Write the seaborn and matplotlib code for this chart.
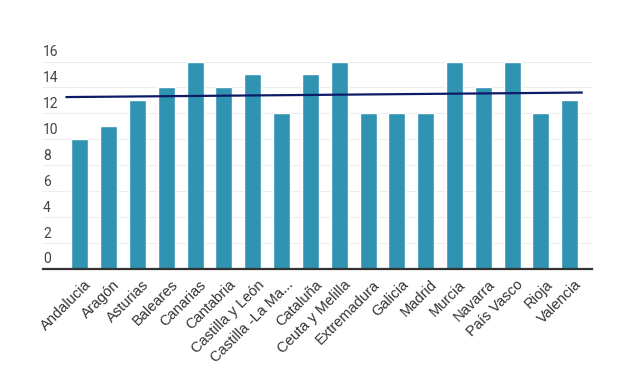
import matplotlib
matplotlib.use("Agg")
import matplotlib.pyplot as plt
import matplotlib.transforms as mtransforms
import seaborn as sns
import pandas as pd

# Data
regions = ['Andalucia', 'Aragón', 'Asturias', 'Baleares', 'Canarias', 'Cantabria',
           'Castilla y León', 'Castilla -La Ma...', 'Cataluña', 'Ceuta y Melilla',
           'Extremadura', 'Galicia', 'Madrid', 'Murcia', 'Navarra', 'País Vasco',
           'Rioja', 'Valencia']
values = [10, 11, 13, 14, 16, 14, 15, 12, 15, 16, 12, 12, 12, 16, 14, 16, 12, 13]
trend_x = [-0.5, 17.45]
trend_y = [13.25, 13.6]
yticks = [0, 2, 4, 6, 8, 10, 12, 14, 16]

df = pd.DataFrame({'region': regions, 'value': values})

sns.set_style('white')
plt.rcParams['font.family'] = ['Roboto', 'DejaVu Sans']

fig = plt.figure(figsize=(6.2, 3.68), dpi=100)
ax = fig.add_axes([43 / 620, 1 - 268.5 / 368, (592 - 43) / 620, (268.5 - 61.5) / 368])

sns.barplot(data=df, x='region', y='value', color='#2f93b1', saturation=1,
            width=0.59, ax=ax, zorder=2)

# trend line
ax.plot(trend_x, trend_y, color='#0d1a66', lw=1.6, zorder=3, solid_capstyle='butt')

ax.set_xlim(-1.28, 17.77)
ax.set_ylim(0, 16)
for p in ax.patches:
    p.set_clip_on(False)

ax.set_yticks(yticks)
ax.yaxis.grid(True, color='#ededed', lw=0.8, zorder=0)
ax.set_axisbelow(True)
ax.tick_params(axis='y', length=0, pad=0, labelsize=10, labelcolor='#444444')
offset = mtransforms.ScaledTranslation(0, 1.5 / 72, fig.dpi_scale_trans)
for lab in ax.get_yticklabels():
    lab.set_horizontalalignment('left')
    lab.set_verticalalignment('bottom')
    lab.set_transform(lab.get_transform() + offset)

ax.tick_params(axis='x', length=0, pad=6.5, labelcolor='#333333')
xoff = mtransforms.ScaledTranslation(3 / 72, 0, fig.dpi_scale_trans)
for lab in ax.get_xticklabels():
    lab.set_rotation(45)
    lab.set_horizontalalignment('right')
    lab.set_rotation_mode('anchor')
    lab.set_family(['Liberation Sans', 'DejaVu Sans'])
    lab.set_fontsize(10.5)
    lab.set_transform(lab.get_transform() + xoff)

ax.set_xlabel('')
ax.set_ylabel('')
for side in ['top', 'right', 'left']:
    ax.spines[side].set_visible(False)
ax.spines['bottom'].set_color('#333333')
ax.spines['bottom'].set_linewidth(1.6)
ax.spines['bottom'].set_zorder(4)

fig.savefig('out.png', dpi=100)
